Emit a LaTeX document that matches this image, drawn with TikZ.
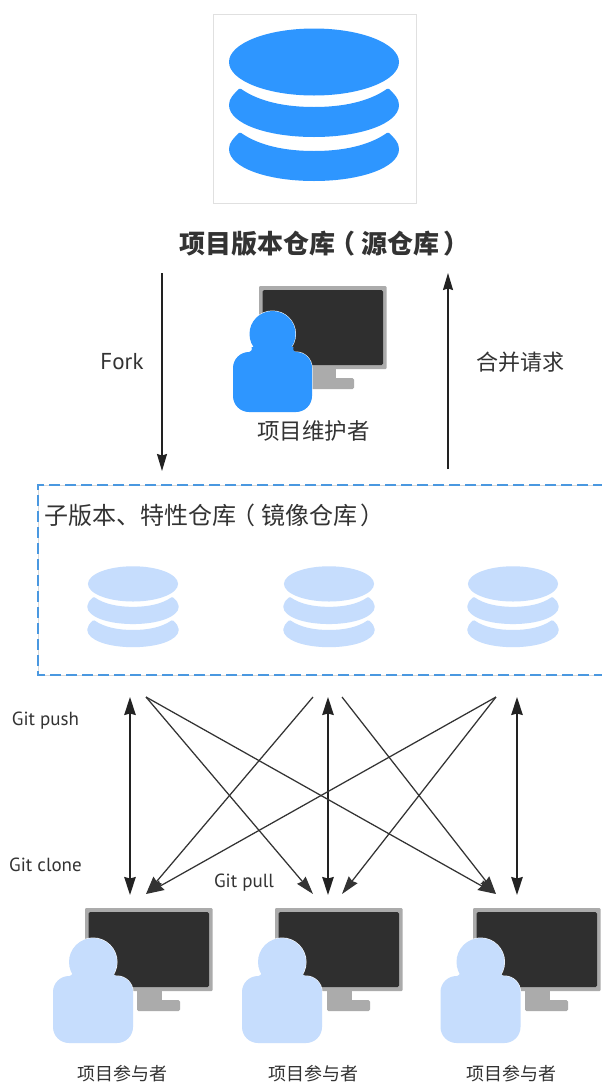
\documentclass[tikz,border=0pt]{standalone}
\usepackage{fontspec}
\setmainfont{Noto Sans CJK SC}
\newfontfamily\latinfont{PT Sans}
\usetikzlibrary{arrows.meta}
\definecolor{txt}{HTML}{333333}
\definecolor{bluedark}{HTML}{2E96FF}
\definecolor{bluelight}{HTML}{C6DDFD}
\definecolor{dashblue}{HTML}{4A98E0}
\definecolor{monframe}{HTML}{ABABAB}
\definecolor{monscreen}{HTML}{2F2F2F}
\definecolor{arrowink}{HTML}{222222}
\definecolor{crossink}{HTML}{333333}
\tikzset{
  x=1pt,y=-1pt,
  lbl/.style={inner sep=0pt,text=txt,font=\fontsize{#1}{#1}\selectfont},
  latinlbl/.style={inner sep=0pt,text=txt,font=\latinfont\fontsize{#1}{#1}\selectfont},
  singlearrow/.style={draw=arrowink,line width=1.2pt,-{Stealth[length=17pt,width=10pt,inset=1.5pt]}},
  crossarrow/.style={draw=crossink,line width=1.25pt,-{Stealth[length=18pt,width=11pt,inset=1.5pt]}},
  bothways/.style={draw=arrowink,line width=1.6pt,{Stealth[length=18pt,width=11.5pt,inset=1.5pt]}-{Stealth[length=18pt,width=11.5pt,inset=1.5pt]}},
  pics/dbicon/.style={code={
    \fill[#1] (0,34) ellipse [x radius=85,y radius=33.5];
    \foreach \dy in {0,44}{
      \filldraw[#1,line width=3pt,line join=round,yshift=-\dy pt] (-74,62) .. controls (-55,75.5) and (-28,80.5) .. (0,80.5)
        .. controls (28,80.5) and (55,75.5) .. (74,62)
        .. controls (79,67) and (83.5,71) .. (83.5,77)
        .. controls (83.5,94) and (47,107.5) .. (0,107.5)
        .. controls (-47,107.5) and (-83.5,94) .. (-83.5,77)
        .. controls (-83.5,71) and (-79,67) .. (-74,62) -- cycle;
    }
  }},
  pics/monitor/.style={code={
    \fill[monframe] (52,80) rectangle (77,95);
    \fill[monframe,rounded corners=1.5pt] (52,92) rectangle (95,103);
    \fill[monframe,rounded corners=1pt] (0,0) rectangle (127.5,83);
    \fill[monscreen,rounded corners=1.5pt] (3.5,4) rectangle (124,79);
  }},
  % colour / half width / body height / head offset / head radius; origin = top centre of body
  pics/person/.style args={#1/#2/#3/#4/#5}{code={
    \draw[white,line width=1pt,rounded corners=16pt] (-#2,0) rectangle (#2,#3);
    \draw[white,line width=1pt] (0,-#4) circle (#5);
    \fill[#1,rounded corners=16pt] (-#2,0) rectangle (#2,#3);
    \fill[#1] (0,-#4) circle (#5);
    \fill[#1] (-26,0.5) .. controls (-21,0) and (-20,-2) .. (-21,-5) -- (21,-5) .. controls (20,-2) and (21,0) .. (26,0.5) -- cycle;
  }},
}
\newcommand{\openp}{\hspace{-0.22em}（\hspace{0.24em}}
\newcommand{\closep}{\hspace{0.14em}）}
\begin{document}
\begin{tikzpicture}
\useasboundingbox (0,0) rectangle (602,1082);
\fill[white] (0,0) rectangle (602,1082);

% source repository
\node[draw=black!12,line width=0.6pt,fill=white,minimum width=203pt,minimum height=189pt,inner sep=0pt] (srcbox) at (314.5,108.5) {};
\pic at (314,28) {dbicon=bluedark};
\node[lbl=26,anchor=west] (srctitle) at (179,244) {\bfseries 项目版本仓库\openp 源仓库\closep};

% maintainer
\pic at (259,286) {monitor};
\pic at (272.5,352) {person=bluedark/39.5/60/18/23};
\node[lbl=22.5] (maintlabel) at (313.5,431) {项目维护者};

% Fork / merge
\coordinate (forkstart) at (162,273);
\coordinate (forkend) at (162,471);
\coordinate (mergestart) at (448,469);
\coordinate (mergeend) at (448,273);
\draw[singlearrow] (forkstart) -- (forkend);
\draw[singlearrow] (mergestart) -- (mergeend);
\node[latinlbl=23] (forklabel) at (122,362) {Fork};
\node[lbl=22] (mergelabel) at (520.5,362) {合并请求};

% mirror group
\draw[black!15,line width=0.8pt] (620,485) -- (38,485) -- (38,675) -- (620,675);
\draw[dashblue,line width=1.8pt,dash pattern=on 11pt off 5pt] (620,485) -- (38,485) -- (38,675) -- (620,675);
\node[lbl=24,anchor=west] (mirrortitle) at (44.5,515) {子版本、特性仓库\openp 镜像仓库\closep};
\pic[xscale=.53,yscale=.526] at (133,566) {dbicon=bluelight};
\pic[xscale=.53,yscale=.526] at (329,566) {dbicon=bluelight};
\pic[xscale=.53,yscale=.526] at (513,566) {dbicon=bluelight};

% connector ends
\coordinate (topA) at (130,697);
\coordinate (topB) at (328,697);
\coordinate (topC) at (517,697);
\coordinate (botA) at (130,895);
\coordinate (botB) at (328,895);
\coordinate (botC) at (517,895);
\coordinate (crossA) at (146,697);
\coordinate (crossBl) at (313,697);
\coordinate (crossBr) at (342,697);
\coordinate (crossC) at (496,697);
\coordinate (endA) at (146,894);
\coordinate (endBl) at (313,894);
\coordinate (endBr) at (342,894);
\coordinate (endC) at (496,894);
\draw[bothways] (topA) -- (botA);
\draw[bothways] (topB) -- (botB);
\draw[bothways] (topC) -- (botC);
\draw[crossarrow] (crossA) -- (endBl);
\draw[crossarrow] (crossA) -- (endC);
\draw[crossarrow] (crossBl) -- (endA);
\draw[crossarrow] (crossBr) -- (endC);
\draw[crossarrow] (crossC) -- (endA);
\draw[crossarrow] (crossC) -- (endBr);
\node[latinlbl=19] (pushlabel) at (45.5,721) {Git push};
\node[latinlbl=19] (clonelabel) at (45.5,864.5) {Git clone};
\node[latinlbl=19] (pulllabel) at (244,883) {Git pull};

% contributors
\foreach \mx/\px/\lx [count=\i] in {85/93/122,275/282/313,473/480.5/511}{
  \pic at (\mx,908) {monitor};
  \pic at (\px,976) {person=bluelight/40/67/14/24};
  \node[lbl=18] (contrib\i) at (\lx,1074) {项目参与者};
}
\end{tikzpicture}
\end{document}
